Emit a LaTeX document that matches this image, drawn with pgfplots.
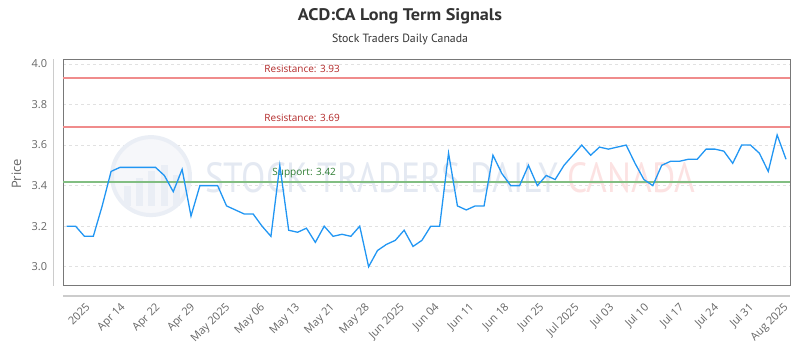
\documentclass[border=0pt]{standalone}
\usepackage{pgfplots}
\pgfplotsset{compat=1.18}
\usepackage{pgfplotstable}
\usepackage{fontspec}
\setmainfont{Open Sans}
\newfontfamily\titlefont{PT Sans}
\definecolor{lineblue}{RGB}{33,150,243}
\definecolor{resline}{RGB}{240,140,140}
\definecolor{restext}{RGB}{178,40,40}
\definecolor{supline}{RGB}{130,190,130}
\definecolor{suptext}{RGB}{46,125,50}
\definecolor{ticktext}{RGB}{102,102,102}
\definecolor{titlecol}{RGB}{51,51,51}
\definecolor{framegray}{RGB}{120,120,120}
\definecolor{outerline}{RGB}{204,204,204}
\definecolor{gridcol}{RGB}{225,225,225}
\definecolor{wmblue}{RGB}{228,233,242}
\definecolor{wmring}{RGB}{234,238,245}
\definecolor{wmred}{RGB}{252,226,226}

\pgfplotstableread{
x y
0 3.20
1 3.20
2 3.15
3 3.15
4 3.30
5 3.47
6 3.49
7 3.49
8 3.49
9 3.49
10 3.49
11 3.45
12 3.37
13 3.48
14 3.25
15 3.40
16 3.40
17 3.40
18 3.30
19 3.28
20 3.26
21 3.26
22 3.20
23 3.15
24 3.50
25 3.18
26 3.17
27 3.19
28 3.12
29 3.20
30 3.15
31 3.16
32 3.15
33 3.20
34 3.00
35 3.08
36 3.11
37 3.13
38 3.18
39 3.10
40 3.13
41 3.20
42 3.20
43 3.56
44 3.30
45 3.28
46 3.30
47 3.30
48 3.55
49 3.46
50 3.40
51 3.40
52 3.50
53 3.40
54 3.45
55 3.43
56 3.50
57 3.55
58 3.60
59 3.55
60 3.59
61 3.58
62 3.59
63 3.60
64 3.51
65 3.43
66 3.40
67 3.50
68 3.52
69 3.52
70 3.53
71 3.53
72 3.58
73 3.58
74 3.57
75 3.51
76 3.60
77 3.60
78 3.56
79 3.47
80 3.65
81 3.53
}\pricedata

\begin{document}
\begin{tikzpicture}[x=1pt,y=1pt]
\useasboundingbox (0,0) rectangle (800,350);
\node[anchor=base, text=titlecol, inner sep=0pt] at (400,329) {\resizebox{204pt}{12pt}{\titlefont\bfseries ACD:CA Long Term Signals}};
\node[anchor=base, text=titlecol, inner sep=0pt] at (400,307) {\resizebox{136pt}{8.5pt}{\titlefont Stock Traders Daily Canada}};
\node[rotate=90, text=ticktext, font=\fontsize{13}{15}\selectfont, inner sep=0pt] at (16.5,176) {Price};
\begin{axis}[
  at={(63.3pt,64pt)}, anchor=south west,
  width=726.7pt, height=226.7pt, scale only axis,
  xmin=-0.38, xmax=81.45, ymin=2.905, ymax=4.023,
  clip=false,
  axis line style={draw=framegray, line width=1pt},
  major tick length=0pt,
  ymajorgrids,
  grid style={dashed, gridcol, line width=0.8pt},
  ytick={3.0,3.2,3.4,3.6,3.8,4.0},
  yticklabel style={/pgf/number format/fixed, /pgf/number format/fixed zerofill, /pgf/number format/precision=1, xshift=-16pt, anchor=east, inner sep=0pt, text=ticktext, font=\fontsize{11}{13}\selectfont},
  /pgf/number format/assume math mode=true,
  xtick={2.06,5.99,9.92,13.85,17.78,21.71,25.64,29.57,33.50,37.43,41.36,45.29,49.22,53.15,57.08,61.01,64.94,68.87,72.80,76.73,80.66},
  xticklabels={2025,Apr 14,Apr 22,Apr 29,May 2025,May 06,May 13,May 21,May 28,Jun 2025,Jun 04,Jun 11,Jun 18,Jun 25,Jul 2025,Jul 03,Jul 10,Jul 17,Jul 24,Jul 31,Aug 2025},
  xticklabel style={yshift=-16pt, rotate=45, anchor=north east, inner sep=0pt, text=ticktext, font=\fontsize{11}{13}\selectfont},
]
% watermark
\draw[wmring, line width=4pt, fill=wmring!45] (axis cs:9.49,3.447) circle[radius=39pt];
\fill[wmring] (axis cs:6.4,3.30) rectangle (axis cs:7.2,3.40);
\fill[wmring] (axis cs:7.8,3.30) rectangle (axis cs:8.6,3.44);
\fill[wmring] (axis cs:9.2,3.30) rectangle (axis cs:10.0,3.47);
\fill[wmring] (axis cs:10.6,3.30) rectangle (axis cs:11.4,3.50);
\fill[wmring] (axis cs:12.0,3.30) rectangle (axis cs:12.8,3.45);
\node[anchor=west, inner sep=0pt] at (axis cs:15.57,3.437) {\resizebox{490pt}{30pt}{\titlefont\textcolor{wmblue}{STOCK TRADERS DAILY} \textcolor{wmred}{CANADA}}};
% outer light lines
\draw[outerline, line width=1.5pt] ([xshift=-10pt]rel axis cs:0,0) -- ([xshift=-10pt]rel axis cs:0,1);
\draw[outerline, line width=1.5pt] ([yshift=-10pt]rel axis cs:0,0) -- ([yshift=-10pt]rel axis cs:1,0);
% levels
\addplot[resline, line width=2pt] coordinates {(-0.38,3.93) (81.45,3.93)};
\addplot[resline, line width=2pt] coordinates {(-0.38,3.69) (81.45,3.69)};
\addplot[supline, line width=2pt] coordinates {(-0.38,3.42) (81.45,3.42)};
\node[anchor=west, inner sep=0pt, text=restext, font=\fontsize{10}{12}\selectfont, yshift=9pt] at (axis cs:22.25,3.93) {Resistance: 3.93};
\node[anchor=west, inner sep=0pt, text=restext, font=\fontsize{10}{12}\selectfont, yshift=9pt] at (axis cs:22.25,3.69) {Resistance: 3.69};
\node[anchor=west, inner sep=0pt, text=suptext, font=\fontsize{10}{12}\selectfont, yshift=8pt] at (axis cs:23.15,3.42) {Support: 3.42};
% price
\addplot[lineblue, line width=1.3pt, mark=none] table[x=x, y=y] {\pricedata};
\end{axis}
\end{tikzpicture}
\end{document}
